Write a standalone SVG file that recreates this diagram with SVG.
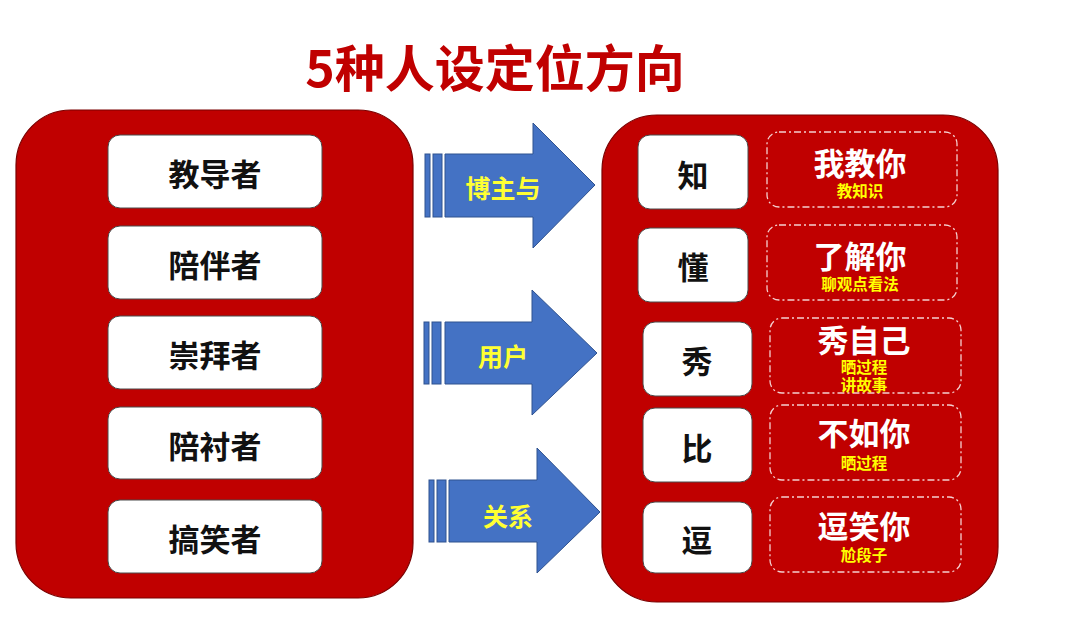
<svg xmlns="http://www.w3.org/2000/svg" width="1080" height="623" viewBox="0 0 1080 623">
<style>
.cjk{font-family:"Noto Sans CJK SC","Noto Sans",sans-serif;font-weight:700;text-anchor:middle;dominant-baseline:central}
.panel{fill:#C00000;stroke:#7A0000;stroke-width:1.2}
.wbox{fill:#FFFFFF;stroke:#4A4A4A;stroke-width:1}
.dbox{fill:none;stroke:#F4D0D0;stroke-width:1.3;stroke-dasharray:7 3 2 3}
.arrow{fill:#4472C4;stroke:#2F528F;stroke-width:1}
.role{font-size:31px;fill:#111111}
.big{font-size:31px;fill:#FFFFFF}
.sub{font-size:15.5px;fill:#FFFF00}
.alabel{font-size:25px;fill:#FFFF33}
.title{font-size:50px;fill:#C00000}
</style>
<rect width="1080" height="623" fill="#FFFFFF"/>
<text class="cjk title" x="495" y="65">5种人设定位方向</text>

<g id="left-panel">
<rect class="panel" x="16" y="110" width="397" height="488" rx="55"/>
<g id="role-1"><rect class="wbox" x="108" y="135" width="214" height="73" rx="12"/><text class="cjk role" x="215" y="172">教导者</text></g>
<g id="role-2"><rect class="wbox" x="108" y="226" width="214" height="73" rx="12"/><text class="cjk role" x="215" y="263">陪伴者</text></g>
<g id="role-3"><rect class="wbox" x="108" y="316" width="214" height="73" rx="12"/><text class="cjk role" x="215" y="353">崇拜者</text></g>
<g id="role-4"><rect class="wbox" x="108" y="407" width="214" height="72" rx="12"/><text class="cjk role" x="215" y="444">陪衬者</text></g>
<g id="role-5"><rect class="wbox" x="108" y="500" width="214" height="73" rx="12"/><text class="cjk role" x="215" y="537">搞笑者</text></g>
</g>

<g id="connectors">
<g id="arrow-1">
<rect class="arrow" x="425" y="154" width="5" height="63"/>
<rect class="arrow" x="433" y="154" width="9" height="63"/>
<path class="arrow" d="M445,154 L533,154 L533,123 L595,185 L533,248 L533,217 L445,217 Z"/>
<text class="cjk alabel" x="503" y="187">博主与</text>
</g>
<g id="arrow-2">
<rect class="arrow" x="424" y="322" width="5" height="62"/>
<rect class="arrow" x="432" y="322" width="9" height="62"/>
<path class="arrow" d="M445,322 L532,322 L532,290 L597,353 L532,415 L532,384 L445,384 Z"/>
<text class="cjk alabel" x="503" y="355">用户</text>
</g>
<g id="arrow-3">
<rect class="arrow" x="429" y="480" width="5" height="62"/>
<rect class="arrow" x="437" y="480" width="9" height="62"/>
<path class="arrow" d="M449,480 L537,480 L537,448 L600,512 L537,573 L537,542 L449,542 Z"/>
<text class="cjk alabel" x="508" y="515">关系</text>
</g>
</g>

<g id="right-panel">
<rect class="panel" x="602" y="115" width="396" height="487" rx="55"/>
<g id="row-1">
<rect class="wbox" x="638" y="135" width="110" height="74" rx="12"/><text class="cjk role" x="693" y="173">知</text>
<rect class="dbox" x="767" y="132" width="190" height="75" rx="12"/>
<text class="cjk big" x="860" y="161">我教你</text><text class="cjk sub" x="860" y="190">教知识</text>
</g>
<g id="row-2">
<rect class="wbox" x="638" y="228" width="110" height="74" rx="12"/><text class="cjk role" x="693" y="265">懂</text>
<rect class="dbox" x="767" y="225" width="190" height="75" rx="12"/>
<text class="cjk big" x="860" y="254">了解你</text><text class="cjk sub" x="860" y="283">聊观点看法</text>
</g>
<g id="row-3">
<rect class="wbox" x="643" y="322" width="109" height="74" rx="12"/><text class="cjk role" x="697" y="359">秀</text>
<rect class="dbox" x="770" y="318" width="191" height="75" rx="12"/>
<text class="cjk big" x="864" y="338">秀自己</text><text class="cjk sub" x="864" y="366">晒过程</text><text class="cjk sub" x="864" y="384">讲故事</text>
</g>
<g id="row-4">
<rect class="wbox" x="643" y="408" width="109" height="74" rx="12"/><text class="cjk role" x="697" y="446">比</text>
<rect class="dbox" x="770" y="405" width="191" height="75" rx="12"/>
<text class="cjk big" x="864" y="431">不如你</text><text class="cjk sub" x="864" y="462">晒过程</text>
</g>
<g id="row-5">
<rect class="wbox" x="643" y="502" width="109" height="71" rx="12"/><text class="cjk role" x="697" y="538">逗</text>
<rect class="dbox" x="770" y="497" width="191" height="75" rx="12"/>
<text class="cjk big" x="864" y="524">逗笑你</text><text class="cjk sub" x="864" y="554">尬段子</text>
</g>
</g>
</svg>
